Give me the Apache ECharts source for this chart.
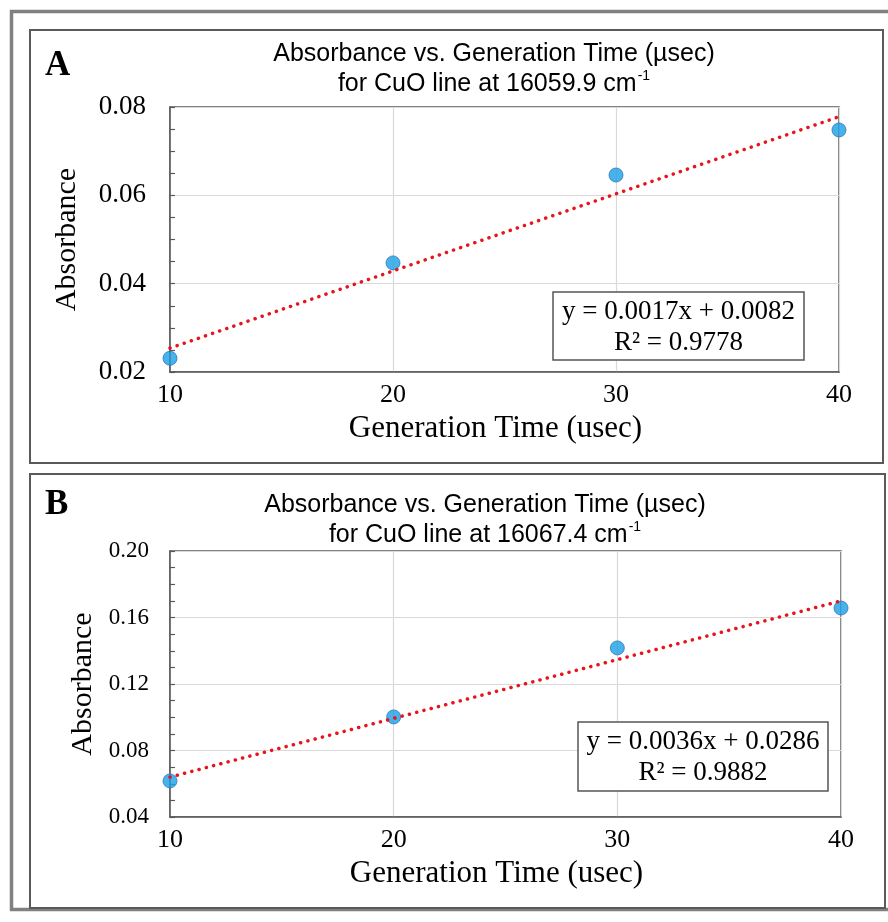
<!DOCTYPE html>
<html style="height: 100%">
<head>
<meta charset="utf-8">
</head>
<body style="height: 100%; margin: 0; background: #fff">
<div id="container" style="width: 888px; height: 922px;"></div>
<script type="text/javascript" src="https://cdn.jsdelivr.net/npm/echarts/dist/echarts.min.js"></script>
<script type="text/javascript">
// generation time (usec)
var genTimes = [10, 20, 30, 40];
// panel A: CuO line at 16059.9 cm-1
var absA = [0.0231, 0.0447, 0.0646, 0.0748];
var trendXA = [10, 40];
var trendYA = [0.0254, 0.0778];
var yTicksA = [0.02, 0.08, 0.02];   // min, max, interval
// panel B: CuO line at 16067.4 cm-1
var absB = [0.0617, 0.1002, 0.1417, 0.1657];
var trendXB = [10, 40];
var trendYB = [0.0640, 0.1700];
var yTicksB = [0.04, 0.20, 0.04];
var eqA = ['y = 0.0017x + 0.0082', 'R\u00b2 = 0.9778'];
var eqB = ['y = 0.0036x + 0.0286', 'R\u00b2 = 0.9882'];

var serif = '"Liberation Serif", "Times New Roman", serif';
var sans = '"Liberation Sans", Arial, sans-serif';

function pairs(xs, ys) {
    return xs.map(function (x, i) { return [x, ys[i]]; });
}

function xAxisFor(idx) {
    return {
        type: 'value', gridIndex: idx, min: 10, max: 40, interval: 10,
        name: 'Generation Time (usec)', nameLocation: 'middle', nameGap: 41,
        nameTextStyle: { fontFamily: serif, fontSize: 31, color: '#000', padding: [0, 18, 0, 0] },
        axisLine: { show: true, lineStyle: { color: '#595959', width: 1.5 } },
        axisTick: { show: false },
        axisLabel: { fontFamily: serif, fontSize: 26, color: '#000', margin: 10 },
        splitLine: { show: true, lineStyle: { color: '#d9d9d9', width: 1.2 } }
    };
}

function yAxisFor(idx, t, fs, gap, margin) {
    return {
        type: 'value', gridIndex: idx, min: t[0], max: t[1], interval: t[2],
        name: 'Absorbance', nameLocation: 'middle', nameGap: gap, nameRotate: 90,
        nameTextStyle: { fontFamily: serif, fontSize: 30, color: '#000' },
        axisLine: { show: true, lineStyle: { color: '#595959', width: 1.5 } },
        axisTick: { show: true, inside: true, length: 5, lineStyle: { color: '#595959', width: 1.2 } },
        minorTick: { show: true, splitNumber: 4, length: 5, lineStyle: { color: '#595959', width: 1.2 } },
        axisLabel: {
            fontFamily: serif, fontSize: fs, color: '#000', margin: margin,
            formatter: function (v) { return v.toFixed(2); }
        },
        splitLine: { show: true, lineStyle: { color: '#d9d9d9', width: 1.2 } }
    };
}

function dots(idx, ys) {
    return {
        type: 'scatter', xAxisIndex: idx, yAxisIndex: idx, z: 2,
        data: pairs(genTimes, ys), symbolSize: 14,
        itemStyle: { color: '#1a9fe6', borderColor: '#2f78b8', borderWidth: 1 }
    };
}

function trend(idx, xs, ys) {
    return {
        type: 'line', xAxisIndex: idx, yAxisIndex: idx, z: 3,
        data: pairs(xs, ys), showSymbol: false, symbol: 'none',
        lineStyle: { color: '#e8141c', width: 3.5, type: [0.1, 7.4], cap: 'round' }
    };
}

function titleText(cx, top, line2) {
    return {
        type: 'text', x: cx, y: top, z: 10,
        style: {
            text: 'Absorbance vs. Generation Time (\u00b5sec)\n{m|' + line2 + ' cm}{s|-1}',
            font: '25px ' + sans, fill: '#000', textAlign: 'center', lineHeight: 30,
            rich: {
                m: { fontFamily: sans, fontSize: 25, lineHeight: 30, fill: '#000' },
                s: { fontFamily: sans, fontSize: 14, lineHeight: 30, verticalAlign: 'top', padding: [0, 0, 0, 1], fill: '#000' }
            }
        }
    };
}

function eqBox(x, y, w, h, lines) {
    return [
        { type: 'rect', shape: { x: x, y: y, width: w, height: h }, z: 10,
          style: { fill: '#fff', stroke: '#555', lineWidth: 1.5 } },
        { type: 'text', x: x + w / 2, y: y + h / 2 + 1, z: 11,
          style: { text: lines.join('\n'), font: '27px ' + serif, fill: '#000',
                   textAlign: 'center', textVerticalAlign: 'middle', lineHeight: 31 } }
    ];
}

var dom = document.getElementById('container');
var myChart = echarts.init(dom);

var option = {
    animation: false,
    backgroundColor: '#fff',
    grid: [
        { left: 170, top: 107, width: 669, height: 265, show: true, borderColor: '#595959', borderWidth: 1.5 },
        { left: 170, top: 551, width: 671, height: 266, show: true, borderColor: '#595959', borderWidth: 1.5 }
    ],
    xAxis: [xAxisFor(0), xAxisFor(1)],
    yAxis: [yAxisFor(0, yTicksA, 27, 88, 24), yAxisFor(1, yTicksB, 23, 64, 21)],
    series: [dots(0, absA), trend(0, trendXA, trendYA), dots(1, absB), trend(1, trendXB, trendYB)],
    graphic: [
        // outer frame and panel boxes
        { type: 'rect', shape: { x: 11.5, y: 11.5, width: 900, height: 898 }, z: 0,
          style: { fill: null, stroke: '#808080', lineWidth: 3.5 } },
        { type: 'rect', shape: { x: 30, y: 30, width: 853, height: 433 }, z: 0,
          style: { fill: null, stroke: '#5a5a5a', lineWidth: 2 } },
        { type: 'rect', shape: { x: 30, y: 474, width: 855, height: 434 }, z: 0,
          style: { fill: null, stroke: '#5a5a5a', lineWidth: 2 } },
        { type: 'text', x: 45, y: 48, z: 10,
          style: { text: 'A', font: 'bold 35px ' + serif, fill: '#000' } },
        { type: 'text', x: 45, y: 487, z: 10,
          style: { text: 'B', font: 'bold 35px ' + serif, fill: '#000' } },
        titleText(494, 39, 'for CuO line at 16059.9'),
        titleText(485, 490, 'for CuO line at 16067.4')
    ].concat(eqBox(553, 292, 251, 68, eqA), eqBox(578, 722, 250, 69, eqB))
};

myChart.setOption(option);
</script>
</body>
</html>
